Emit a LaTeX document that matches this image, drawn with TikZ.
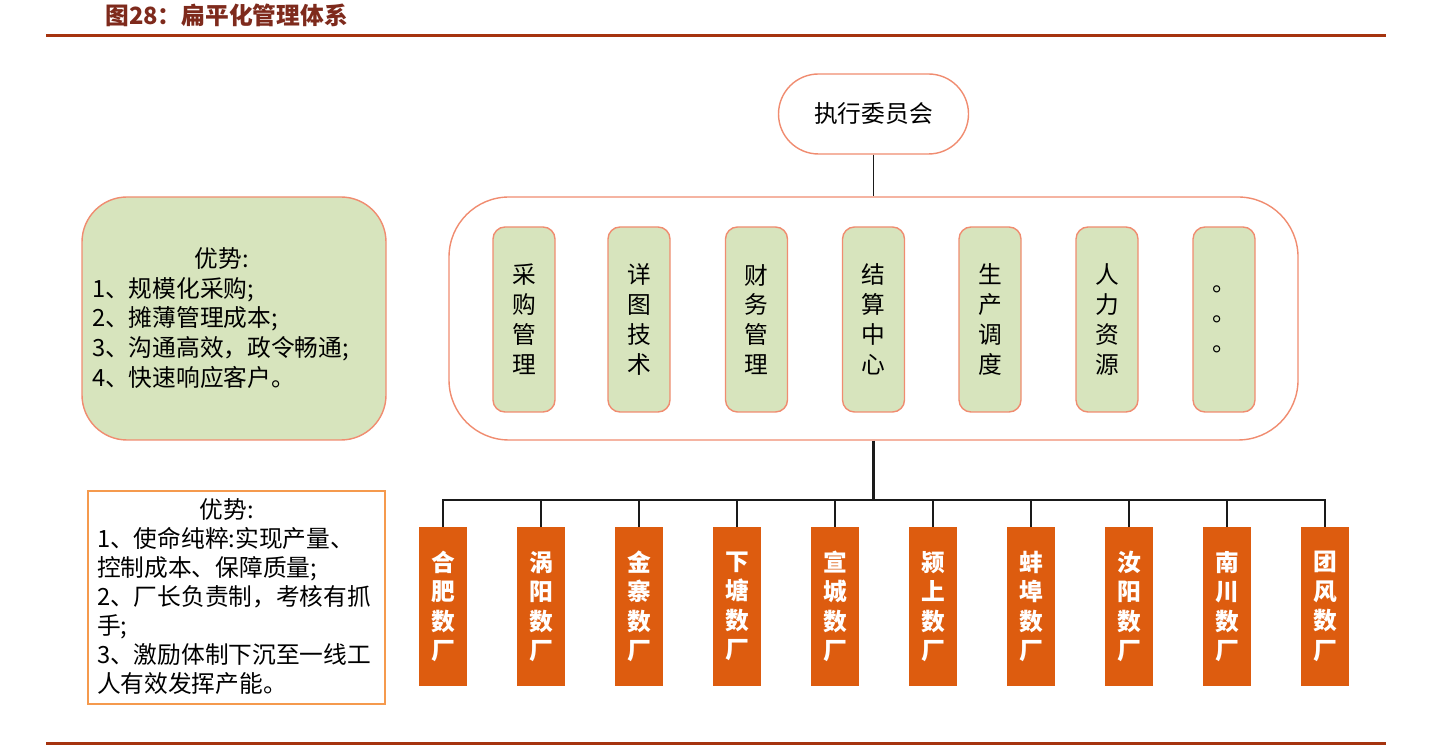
\documentclass[tikz,border=0pt]{standalone}
\usepackage{fontspec}
\setmainfont{Noto Sans CJK SC}
\usepackage{tikz}
\usetikzlibrary{positioning}
\usepackage{xcolor}
\definecolor{ReportRule}{HTML}{A5330F}
\definecolor{ReportTitle}{HTML}{7E2A1C}
\definecolor{BoxSalmon}{HTML}{F08C70}
\definecolor{BoxGreen}{HTML}{D7E4BD}
\definecolor{FactoryOrange}{HTML}{DD5C0F}
\definecolor{NoteOrange}{HTML}{F59A4E}
\definecolor{LinkBlack}{HTML}{1A1A1A}
\tikzset{
    % Base text node
    basenode/.style={
        align=center,
        inner sep=0pt,
        font=\fontsize{13.5}{17}\selectfont
    },
    % Executive committee
    execnode/.style={
        basenode,
        draw=BoxSalmon,
        fill=white,
        line width=0.8pt,
        minimum width=3.8cm,
        minimum height=1.6cm,
        rounded corners=0.8cm
    },
    % Frame round the departments
    framenode/.style={
        draw=BoxSalmon,
        line width=0.8pt,
        minimum width=16.98cm,
        minimum height=4.86cm,
        rounded corners=1.2cm
    },
    % Department box
    deptnode/.style={
        basenode,
        draw=BoxSalmon,
        fill=BoxGreen,
        line width=0.8pt,
        minimum width=1.24cm,
        minimum height=3.7cm,
        rounded corners=0.24cm
    },
    % Factory box
    factorynode/.style={
        basenode,
        fill=FactoryOrange,
        text=white,
        font=\fontsize{13.5}{16.8}\selectfont\bfseries,
        minimum width=0.96cm,
        minimum height=3.18cm
    },
    % Advantage box (green)
    advbox/.style={
        draw=BoxSalmon,
        fill=BoxGreen,
        line width=0.8pt,
        minimum width=6.08cm,
        minimum height=4.86cm,
        rounded corners=0.9cm
    },
    % Note box (orange frame)
    notebox/.style={
        draw=NoteOrange,
        fill=white,
        line width=0.9pt,
        minimum width=5.94cm,
        minimum height=4.26cm
    },
    % Left-aligned text block
    textblock/.style={
        basenode,
        align=left,
        text width=5.2cm
    },
    % Lines
    linkline/.style={
        line width=1.1pt,
        draw=LinkBlack
    },
    trunkline/.style={
        line width=1.7pt,
        draw=LinkBlack
    },
    rulebar/.style={
        line width=1.4pt,
        draw=ReportRule
    }
}
\begin{document}
\begin{tikzpicture}
    \useasboundingbox (0,0) rectangle (28.82,14.9);

    % title and rules
    \node[anchor=west, inner sep=0pt, text=ReportTitle, font=\fontsize{13.5}{17}\selectfont\bfseries] (title) at (2.1,14.6) {图28：扁平化管理体系};
    \draw[rulebar] (0.92,14.19) -- (27.72,14.19);
    \draw[rulebar] (0.92,0.03) -- (27.72,0.03);

    % headquarters
    \node[execnode] (exec) at (17.47,12.62) {执行委员会};
    \node[framenode] (frame) at (17.47,8.53) {};
    \node[deptnode] (d1) at (10.48,8.51) {采\\购\\管\\理};
    \node[deptnode] (d2) at (12.78,8.51) {详\\图\\技\\术};
    \node[deptnode] (d3) at (15.13,8.51) {财\\务\\管\\理};
    \node[deptnode] (d4) at (17.47,8.51) {结\\算\\中\\心};
    \node[deptnode] (d5) at (19.80,8.51) {生\\产\\调\\度};
    \node[deptnode] (d6) at (22.14,8.51) {人\\力\\资\\源};
    \node[deptnode] (d7) at (24.48,8.51) {。\\。\\。};

    % factories
    \coordinate (bus) at (17.47,4.9);
    \node[factorynode] (f1) at (8.86,2.77) {合\\肥\\数\\厂};
    \node[factorynode] (f2) at (10.82,2.77) {涡\\阳\\数\\厂};
    \node[factorynode] (f3) at (12.78,2.77) {金\\寨\\数\\厂};
    \node[factorynode] (f4) at (14.74,2.77) {下\\塘\\数\\厂};
    \node[factorynode] (f5) at (16.70,2.77) {宣\\城\\数\\厂};
    \node[factorynode] (f6) at (18.66,2.77) {颍\\上\\数\\厂};
    \node[factorynode] (f7) at (20.62,2.77) {蚌\\埠\\数\\厂};
    \node[factorynode] (f8) at (22.58,2.77) {汝\\阳\\数\\厂};
    \node[factorynode] (f9) at (24.54,2.77) {南\\川\\数\\厂};
    \node[factorynode] (f10) at (26.50,2.77) {团\\风\\数\\厂};

    \draw[linkline] (exec) -- (frame);
    \draw[trunkline] (frame.south) -- (bus);
    \draw[linkline] (bus) -| (f1.north);
    \draw[linkline] (bus) -| (f2.north);
    \draw[linkline] (bus) -| (f3.north);
    \draw[linkline] (bus) -| (f4.north);
    \draw[linkline] (bus) -| (f5.north);
    \draw[linkline] (bus) -| (f6.north);
    \draw[linkline] (bus) -| (f7.north);
    \draw[linkline] (bus) -| (f8.north);
    \draw[linkline] (bus) -| (f9.north);
    \draw[linkline] (bus) -| (f10.north);

    % advantages
    \node[advbox] (adv) at (4.68,8.53) {};
    \node[textblock] (advtext) at (4.44,8.54) {%
        \makebox[\hsize][c]{优势:}\\
        1、规模化采购;\\
        2、摊薄管理成本;\\
        3、沟通高效，政令畅通;\\
        4、快速响应客户。};
    \node[notebox] (note) at (4.73,2.95) {};
    \node[textblock, font=\fontsize{13.5}{16.5}\selectfont] (notetext) at (4.54,2.96) {%
        \makebox[\hsize][c]{优势:}\\
        1、使命纯粹:实现产量、\\
        控制成本、保障质量;\\
        2、厂长负责制，考核有抓\\
        手;\\
        3、激励体制下沉至一线工\\
        人有效发挥产能。};
\end{tikzpicture}
\end{document}
